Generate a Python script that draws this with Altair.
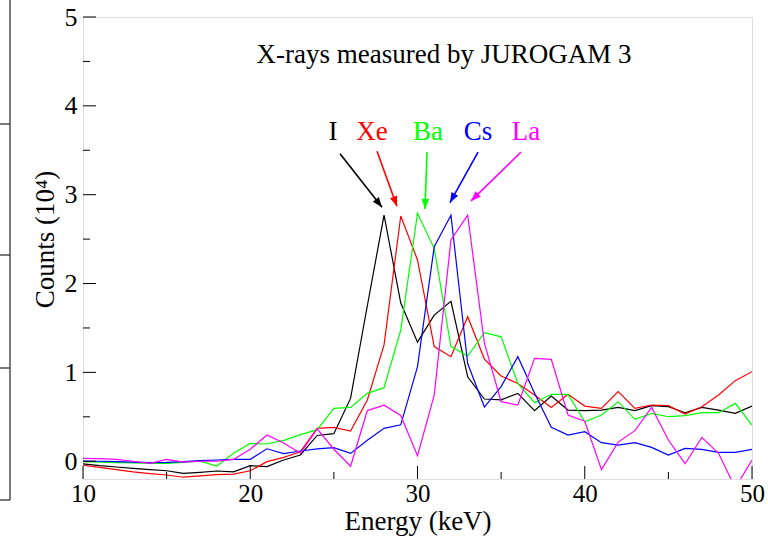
import math
import altair as alt
import pandas as pd

# ---------------- data ----------------
energy = list(range(10, 51))

iodine = [-0.03, -0.05, -0.065, -0.08, -0.095, -0.107, -0.136, -0.125, -0.11, -0.12,
          -0.05, -0.06, 0.014, 0.07, 0.29, 0.31, 0.71, 1.75, 2.77, 1.78,
          1.34, 1.645, 1.8, 0.95, 0.70, 0.69, 0.764, 0.569, 0.734, 0.576,
          0.569, 0.576, 0.606, 0.569, 0.625, 0.614, 0.546, 0.606, 0.576, 0.539,
          0.621]
xenon = [-0.045, -0.07, -0.095, -0.12, -0.14, -0.155, -0.18, -0.165, -0.15, -0.145,
         -0.107, -0.005, 0.044, 0.107, 0.37, 0.38, 0.34, 0.69, 1.31, 2.76,
         2.265, 1.29, 1.176, 1.627, 1.15, 0.96, 0.876, 0.745, 0.606, 0.753,
         0.621, 0.595, 0.783, 0.595, 0.633, 0.625, 0.531, 0.614, 0.745, 0.907,
         1.008]
barium = [-0.005, -0.01, -0.015, -0.02, -0.025, -0.024, -0.013, 0.002, -0.054, 0.09,
          0.2, 0.194, 0.235, 0.3, 0.355, 0.595, 0.606, 0.764, 0.828, 1.477,
          2.79, 2.396, 1.29, 1.184, 1.447, 1.40, 0.876, 0.659, 0.753, 0.753,
          0.445, 0.52, 0.67, 0.471, 0.539, 0.501, 0.513, 0.546, 0.546, 0.651,
          0.407]
cesium = [0.002, 0.0, -0.005, -0.01, -0.015, -0.013, -0.005, 0.006, 0.014, 0.021,
          0.021, 0.14, 0.085, 0.115, 0.14, 0.152, 0.088, 0.235, 0.37, 0.41,
          1.064, 2.415, 2.77, 1.10, 0.61, 0.84, 1.177, 0.764, 0.381, 0.295,
          0.333, 0.209, 0.182, 0.209, 0.156, 0.07, 0.145, 0.133, 0.1, 0.1,
          0.133]
lanthanum = [0.032, 0.03, 0.021, 0.0, -0.024, 0.021, -0.01, 0.0, 0.0, 0.02,
             0.134, 0.295, 0.205, 0.09, 0.365, 0.135, -0.057, 0.57, 0.63, 0.515,
             0.062, 0.745, 2.49, 2.77, 1.33, 0.67, 0.633, 1.158, 1.147, 0.52,
             0.45, -0.095, 0.215, 0.344, 0.605, 0.239, -0.028, 0.269, 0.089, -0.3,
             0.014]

series_names = ["I", "Xe", "Ba", "Cs", "La"]
series_colors = ["#000000", "#ff0000", "#00ff00", "#0000ff", "#ff00ff"]
series_values = [iodine, xenon, barium, cesium, lanthanum]

# annotation labels and arrows (data coordinates)
label_x = [24.95, 27.28, 30.63, 33.62, 36.49]
label_y = [3.62, 3.62, 3.62, 3.62, 3.62]
arrow_x0 = [25.37, 27.58, 30.57, 33.62, 36.19]
arrow_y0 = [3.46, 3.49, 3.48, 3.48, 3.48]
arrow_x1 = [27.88, 28.77, 30.45, 31.94, 33.20]
arrow_y1 = [2.86, 2.87, 2.84, 2.91, 2.93]

title_text = "X-rays measured by JUROGAM 3"
title_x = [31.58]
title_y = [4.57]

x_major = [10, 20, 30, 40, 50]
x_minor = [15, 25, 35, 45]
y_major = [0, 1, 2, 3, 4, 5]
y_minor = [0.5, 1.5, 2.5, 3.5, 4.5]

# ---------------- layout ----------------
W, H = 669, 462
XDOM = [10, 50]
YDOM = [-0.2, 5]
FONT = "Liberation Serif"

xs = alt.Scale(domain=XDOM, nice=False, zero=False)
ys = alt.Scale(domain=YDOM, nice=False, zero=False)
cscale = alt.Scale(domain=series_names, range=series_colors)

x_axis = alt.Axis(values=x_major, format="d", ticks=False, domain=False, grid=False,
                  labelFont=FONT, labelFontSize=25, labelColor="black", labelPadding=2,
                  labelFlush=False, labelOverlap=False,
                  title="Energy (keV)", titleFont=FONT, titleFontSize=27,
                  titleFontWeight="normal", titleColor="black",
                  titleY=50, titleBaseline="alphabetic")
y_axis = alt.Axis(values=y_major, format="d", ticks=False, domain=False, grid=False,
                  labelFont=FONT, labelFontSize=26, labelColor="black", labelPadding=6,
                  labelFlush=False, labelOverlap=False,
                  title="Counts (10⁴)", titleFont=FONT, titleFontSize=27,
                  titleFontWeight="normal", titleColor="black",
                  titleX=-38, titleY=222, titleBaseline="middle", titleAngle=270)


def X(field):
    return alt.X(field, scale=xs, axis=x_axis)


def Y(field):
    return alt.Y(field, scale=ys, axis=y_axis)


layers = []
for name, vals in zip(series_names, series_values):
    df = pd.DataFrame({"energy": energy, "counts": vals, "name": name})
    layers.append(
        alt.Chart(df).mark_line(strokeWidth=1.2, clip=True).encode(
            x=X("energy:Q"),
            y=Y("counts:Q"),
            color=alt.Color("name:N", scale=cscale, legend=None),
        )
    )

# inward ticks
tx_major = alt.Chart(pd.DataFrame({"v": x_major})).mark_rule(color="black", strokeWidth=1).encode(
    x=X("v:Q"), y=alt.value(H), y2=alt.value(H - 13))
tx_minor = alt.Chart(pd.DataFrame({"v": x_minor})).mark_rule(color="black", strokeWidth=1).encode(
    x=X("v:Q"), y=alt.value(H), y2=alt.value(H - 7))
ty_major = alt.Chart(pd.DataFrame({"v": y_major})).mark_rule(color="black", strokeWidth=1).encode(
    y=Y("v:Q"), x=alt.value(0), x2=alt.value(13))
ty_minor = alt.Chart(pd.DataFrame({"v": y_minor})).mark_rule(color="black", strokeWidth=1).encode(
    y=Y("v:Q"), x=alt.value(0), x2=alt.value(7))

# title text inside plot
title_layer = alt.Chart(pd.DataFrame({"x": title_x, "y": title_y, "t": [title_text]})).mark_text(
    font=FONT, fontSize=27, color="black", align="center", baseline="middle").encode(
    x=X("x:Q"), y=Y("y:Q"), text="t:N")

# element labels
lab_df = pd.DataFrame({"x": label_x, "y": label_y, "name": series_names})
label_layer = alt.Chart(lab_df).mark_text(font=FONT, fontSize=27, align="center",
                                          baseline="alphabetic").encode(
    x=X("x:Q"), y=Y("y:Q"),
    text="name:N", color=alt.Color("name:N", scale=cscale, legend=None))

# arrows
px_per_x = W / (XDOM[1] - XDOM[0])
px_per_y = H / (YDOM[1] - YDOM[0])
angles = []
for a, b, c, d in zip(arrow_x0, arrow_y0, arrow_x1, arrow_y1):
    dx = (c - a) * px_per_x
    dy = -(d - b) * px_per_y
    angles.append(math.degrees(math.atan2(dx, -dy)) % 360)
arr_df = pd.DataFrame({"x0": arrow_x0, "y0": arrow_y0, "x1": arrow_x1, "y1": arrow_y1,
                       "ang": angles, "name": series_names})
arrow_lines = alt.Chart(arr_df).mark_rule(strokeWidth=1.6).encode(
    x=X("x0:Q"), y=Y("y0:Q"),
    x2="x1:Q", y2="y1:Q", color=alt.Color("name:N", scale=cscale, legend=None))
arrow_heads = alt.Chart(arr_df).mark_point(shape="M0,0 L-0.38,1 L0.38,1 Z", filled=True,
                                           size=400, opacity=1, strokeWidth=0).encode(
    x=X("x1:Q"), y=Y("y1:Q"),
    angle=alt.Angle("ang:Q", scale=None),
    color=alt.Color("name:N", scale=cscale, legend=None))

# cropped neighbouring panel frame at the far left
LEFT, TOP = 83, 17
side_v = alt.Chart(pd.DataFrame({"k": [0]})).mark_rule(color="#222222", strokeWidth=1.2).encode(
    x=alt.value(10 - LEFT), y=alt.value(0 - TOP), y2=alt.value(500 - TOP))
side_h = [
    alt.Chart(pd.DataFrame({"k": [0]})).mark_rule(color="#222222", strokeWidth=1.2).encode(
        x=alt.value(0 - LEFT), x2=alt.value(10 - LEFT), y=alt.value(yy - TOP))
    for yy in (124, 255, 368, 500)
]

chart = alt.layer(*layers, tx_major, tx_minor, ty_major, ty_minor, title_layer,
                  label_layer, arrow_lines, arrow_heads, side_v, *side_h).properties(
    width=W, height=H,
    padding={"left": LEFT, "top": TOP, "right": 768 - LEFT - W, "bottom": 537 - TOP - H},
    autosize=alt.AutoSizeParams(type="none"),
).configure_view(stroke="black", strokeWidth=1.5).configure(background="white")

chart.save("out.html", embed_options={"renderer": "svg", "actions": False})
